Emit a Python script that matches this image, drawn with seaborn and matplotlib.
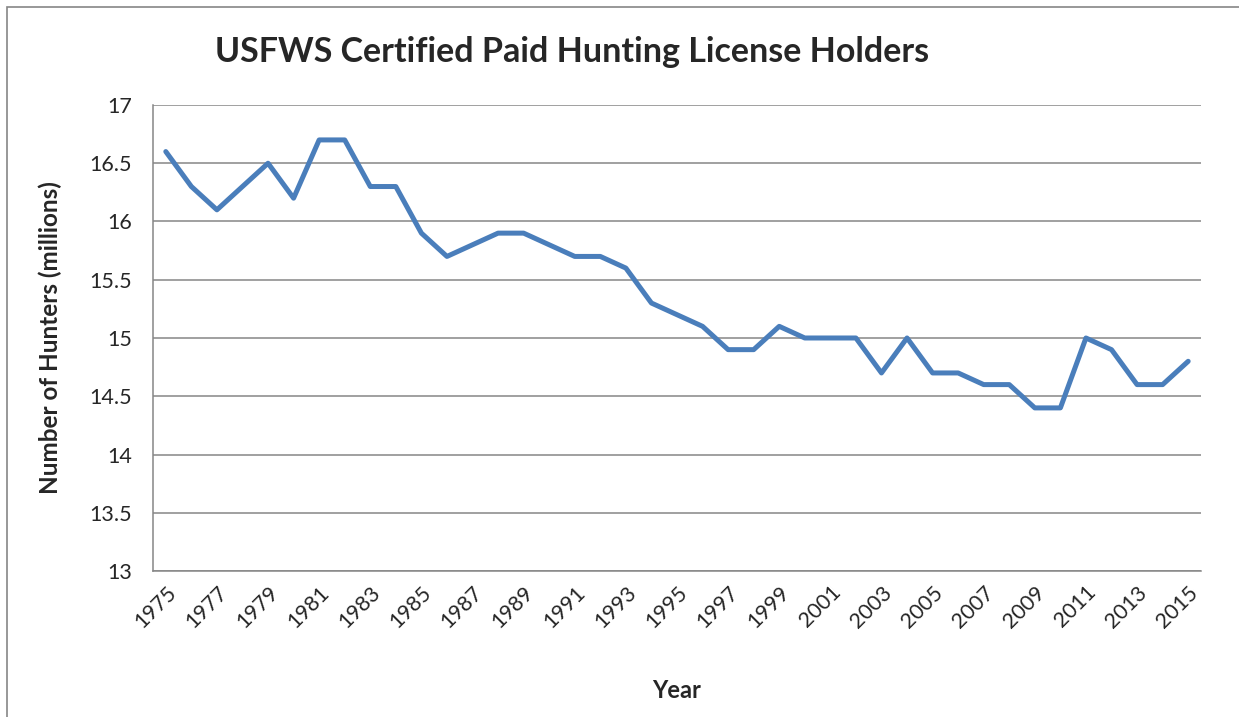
import numpy as np
import pandas as pd
import seaborn as sns
import matplotlib.pyplot as plt
from matplotlib.patches import Rectangle
from matplotlib.transforms import ScaledTranslation

# data (millions of hunters)
years = list(range(1975, 2016))
hunters = [16.6, 16.3, 16.1, 16.3, 16.5, 16.2, 16.7, 16.7, 16.3, 16.3,
           15.9, 15.7, 15.8, 15.9, 15.9, 15.8, 15.7, 15.7, 15.6, 15.3,
           15.2, 15.1, 14.9, 14.9, 15.1, 15.0, 15.0, 15.0, 14.7, 15.0,
           14.7, 14.7, 14.6, 14.6, 14.4, 14.4, 15.0, 14.9, 14.6, 14.6,
           14.8]
ytick_vals = [13, 13.5, 14, 14.5, 15, 15.5, 16, 16.5, 17]
ytick_labels = ["13", "13.5", "14", "14.5", "15", "15.5", "16", "16.5", "17"]

df = pd.DataFrame({"Year": years, "Hunters": hunters})

sns.set_style("white")
plt.rcParams['font.family'] = ['Lato', 'DejaVu Sans']

fig = plt.figure(figsize=(12.39, 7.17), dpi=100)
ax = fig.add_axes([0.1235, 0.2036, 0.9693 - 0.1235, 0.8536 - 0.2036])

sns.lineplot(data=df, x="Year", y="Hunters", ax=ax, color="#4A7EBB",
             linewidth=3.6, solid_joinstyle="round", solid_capstyle="round")

ax.set_xlim(years[0] - 0.5, years[-1] + 0.5)
ax.set_ylim(13, 17)
ax.set_yticks(ytick_vals)
ax.set_yticklabels(ytick_labels, fontsize=15.5)
ax.yaxis.grid(True, color="#868686", linewidth=1.1)
ax.set_axisbelow(True)

# category style x axis: labels at centres, ticks at boundaries
ax.set_xticks(years[::2])
ax.set_xticklabels([str(y) for y in years[::2]], rotation=45, ha="right",
                   rotation_mode="anchor", fontsize=15.5)
shift = ScaledTranslation(10 / 72, 0, fig.dpi_scale_trans)
for lbl in ax.get_xticklabels():
    lbl.set_transform(lbl.get_transform() + shift)
ax.set_xticks(np.arange(years[0] - 0.5, years[-1] + 1.0, 1.0), minor=True)
ax.tick_params(axis="x", which="major", length=0, pad=8)
ax.tick_params(axis="x", which="minor", length=7, color="#868686", width=1.1, direction="out")
ax.tick_params(axis="y", length=7, color="#868686", width=1.1, direction="out", pad=8)

for s in ["top", "right"]:
    ax.spines[s].set_visible(False)
for s in ["left", "bottom"]:
    ax.spines[s].set_color("#868686")
    ax.spines[s].set_linewidth(1.1)

ax.set_xlabel("Year", fontsize=17, fontweight="bold", labelpad=34)
ax.set_ylabel("Number of Hunters (millions)", fontsize=17.5, fontweight="bold", labelpad=20)

fig.text(0.462, 0.928, "USFWS Certified Paid Hunting License Holders",
         ha="center", va="center", fontsize=24.5, fontweight="bold")

# chart area border
fig.patches.append(Rectangle((0.006, -0.01), 1.2, 1.0, transform=fig.transFigure,
                             fill=False, edgecolor="#868686", linewidth=1.2))

fig.savefig("out.png", dpi=100)
